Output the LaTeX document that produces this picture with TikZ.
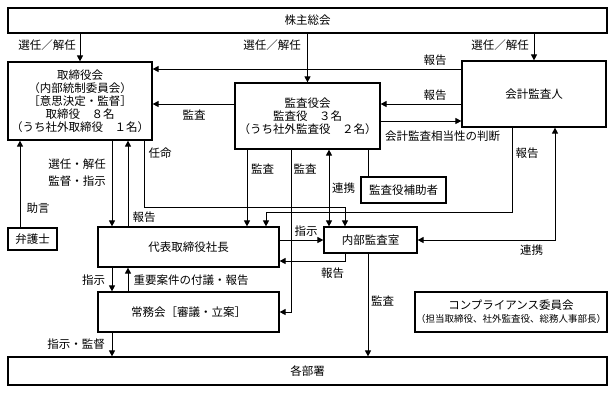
\documentclass[tikz,border=0pt]{standalone}
\usepackage{fontspec}
\setmainfont{Noto Sans CJK JP}
\usetikzlibrary{arrows.meta,positioning}

\begin{document}
\begin{tikzpicture}[
  x=1pt, y=-1pt,
  font=\fontsize{11.5pt}{13pt}\selectfont,
  block/.style={draw, line width=1.2pt, inner sep=0pt, align=center},
  arrow/.style={-{Triangle[length=6pt,width=6pt]}, line width=0.9pt},
  twoway/.style={{Triangle[length=6pt,width=6pt]}-{Triangle[length=6pt,width=6pt]}, line width=0.9pt},
  link/.style={line width=0.9pt},
  note/.style={inner sep=0pt}
]
\useasboundingbox (0,0) rectangle (615,392);

% Blocks
\node[block, minimum width=599pt, minimum height=25pt] (meeting) at (307.5,20.5) {株主総会};
\node[block, minimum width=144pt, minimum height=78pt] (board) at (80,101)
  {取締役会\\（内部統制委員会）\\［意思決定・監督］\\取締役　８名\\（うち社外取締役　１名）};
\node[block, minimum width=145pt, minimum height=66pt] (kansa) at (307.5,116)
  {監査役会\\監査役　３名\\（うち社外監査役　２名）};
\node[block, minimum width=144pt, minimum height=66pt] (auditor) at (534,94) {会計監査人};
\node[block, minimum width=85pt, minimum height=26pt] (assist) at (403.5,190) {監査役補助者};
\node[block, minimum width=49pt, minimum height=22pt] (lawyer) at (32.5,239) {弁護士};
\node[block, minimum width=181pt, minimum height=40pt] (ceo) at (188.5,247) {代表取締役社長};
\node[block, minimum width=93pt, minimum height=26pt] (naibu) at (370.5,240) {内部監査室};
\node[block, minimum width=181pt, minimum height=40pt] (jomu) at (188.5,312) {常務会［審議・立案］};
\node[block, minimum width=192pt, minimum height=40pt] (comp) at (511,312)
  {コンプライアンス委員会\\{\fontsize{9.5pt}{12pt}\selectfont（担当取締役、社外監査役、総務人事部長）}};
\node[block, minimum width=599pt, minimum height=28pt] (depts) at (307.5,371) {各部署};

% Lanes
\coordinate (x20) at (20,0);
\coordinate (x112) at (112,0);
\coordinate (x128) at (128,0);
\coordinate (x144) at (144,0);
\coordinate (x247) at (247,0);
\coordinate (x266) at (266,0);
\coordinate (x291) at (291,0);
\coordinate (x329) at (329,0);
\coordinate (x345) at (345,0);
\coordinate (x368) at (368,0);
\coordinate (x512) at (512,0);
\coordinate (x555) at (555,0);
\coordinate (y69) at (0,69);
\coordinate (y104) at (0,104);
\coordinate (y121) at (0,121);
\coordinate (y207) at (0,207);
\coordinate (y212) at (0,212);
\coordinate (y261) at (0,261);

% Shareholders
\draw[arrow] (meeting.south -| board.north) -- (board.north);
\draw[arrow] (meeting.south -| kansa.north) -- (kansa.north);
\draw[arrow] (meeting.south -| auditor.north) -- (auditor.north);
\node[note] at (47,45) {選任／解任};
\node[note] at (272,45) {選任／解任};
\node[note] at (500,45) {選任／解任};

% Accounting auditor
\draw[arrow] (auditor.west |- y69) -- (board.east |- y69);
\draw[arrow] (auditor.west |- y104) -- (kansa.east |- y104);
\draw[arrow] (kansa.east |- y121) -- (auditor.west |- y121);
\draw[arrow] (kansa.west |- y104) -- (board.east |- y104);
\node[note] at (435,60) {報告};
\node[note] at (435,95) {報告};
\node[note] at (442.5,136) {会計監査相当性の判断};
\node[note] at (194,115) {監査};

% Board and president
\draw[arrow] (board.south -| x112) -- (ceo.north -| x112);
\draw[arrow] (ceo.north -| x128) -- (board.south -| x128);
\draw[arrow] (lawyer.north -| x20) -- (board.south -| x20);
\draw[arrow] (board.south -| x144) |- (x345 |- y207) -- (naibu.north -| x345);
\node[note, align=center] at (77,173) {選任・解任\\[4pt]監督・指示};
\node[note] at (160,153) {任命};
\node[note] at (38,208) {助言};
\node[note] at (144,217) {報告};

% Auditors
\draw[arrow] (kansa.south -| x247) -- (ceo.north -| x247);
\draw[arrow] (kansa.south -| x291) |- (jomu.east);
\draw[twoway] (kansa.south -| x329) -- (naibu.north -| x329);
\draw[link] (kansa.south -| x368) -- (assist.north -| x368);
\draw[arrow] (auditor.south -| x512) |- (x266 |- y212) -- (ceo.north -| x266);
\draw[twoway] (naibu.east) -| (auditor.south -| x555);
\node[note] at (262.5,169) {監査};
\node[note] at (305,169) {監査};
\node[note] at (343.5,188) {連携};
\node[note] at (527,153) {報告};
\node[note] at (531.5,250) {連携};

% Internal audit
\draw[arrow] (ceo.east |- naibu.west) -- (naibu.west);
\draw[arrow] (naibu.south -| x345) |- (ceo.east |- y261);
\draw[arrow] (naibu.south -| x368) -- (depts.north -| x368);
\node[note] at (306,231) {指示};
\node[note] at (332.5,273) {報告};
\node[note] at (382.5,301) {監査};

% Executive committee
\draw[arrow] (ceo.south -| x112) -- (jomu.north -| x112);
\draw[arrow] (jomu.north -| x128) -- (ceo.south -| x128);
\draw[arrow] (jomu.south -| x112) -- (depts.north -| x112);
\node[note] at (93.5,280) {指示};
\node[note] at (191,280) {重要案件の付議・報告};
\node[note] at (76,344) {指示・監督};

\end{tikzpicture}
\end{document}
